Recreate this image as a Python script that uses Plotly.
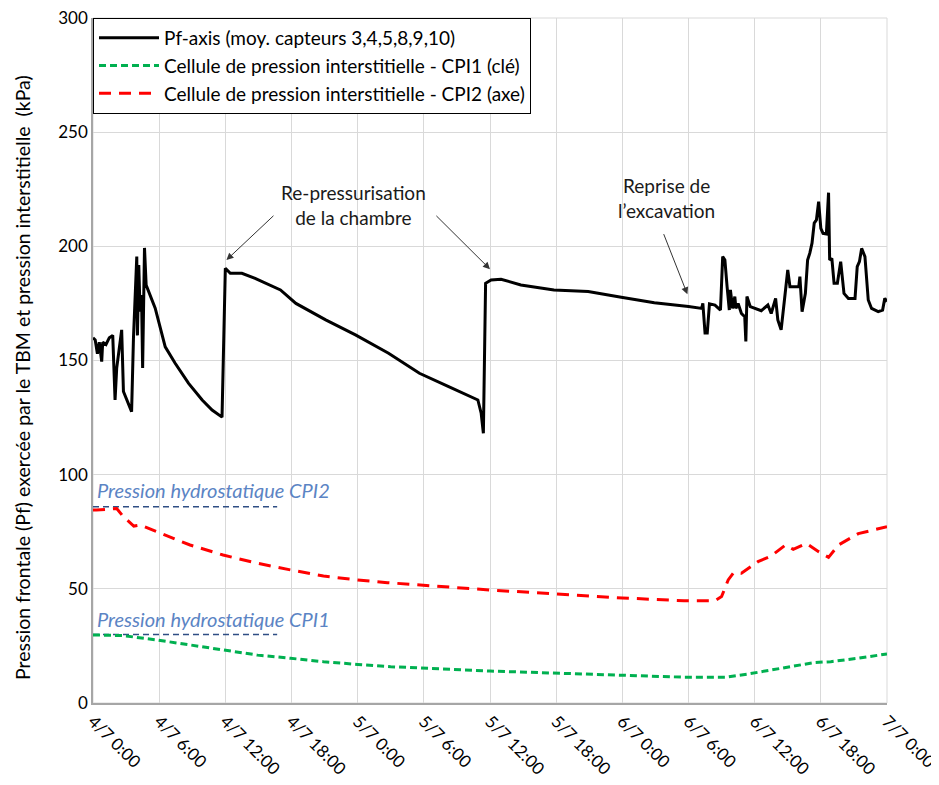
import plotly.graph_objects as go

# Time in hours since 4/7 0:00
pf_t = [0.0, 0.2, 0.4, 0.57, 0.79, 0.88, 1.18, 1.48, 1.79, 2.0, 2.15, 2.4, 2.6, 2.76, 3.5, 3.67,
        3.82, 3.97, 4.03, 4.15, 4.27, 4.4, 4.5, 4.67, 4.82, 5.64, 6.55, 7.45, 8.67, 9.9, 10.8, 11.7,
        12.0, 12.45, 13.5, 14.7, 17.0, 18.4, 21.1, 23.8, 26.8, 29.6, 32.3, 34.3, 34.9, 35.2, 35.4,
        35.6, 36.1, 37.0, 38.8, 41.8, 44.9, 47.9, 50.9, 54.0, 55.2, 55.3, 55.5, 55.7, 55.9, 56.4,
        56.9, 57.1, 57.3, 57.5, 57.7, 57.8, 58.0, 58.2, 58.3, 58.5, 58.8, 59.1, 59.2, 59.3, 59.6,
        60.6, 61.2, 61.5, 61.9, 62.1, 62.4, 62.7, 63.0, 63.2, 64.0, 64.1, 64.3, 64.6, 64.8, 65.0,
        65.2, 65.4, 65.6, 65.8, 66.0, 66.2, 66.5, 66.7, 66.8, 67.0, 67.2, 67.5, 67.8, 68.1, 68.5,
        69.1, 69.3, 69.5, 69.7, 70.0, 70.3, 70.6, 71.2, 71.6, 71.8, 72.0]
pf_v = [160, 159, 153, 158, 149.5, 158, 157, 160, 161, 132.7, 146.7, 156.8, 163.4, 136.4, 127.6, 160,
        175.8, 195.5, 161, 191.8, 171.4, 178.7, 146.7, 199.3, 183, 172.9, 156, 148.8, 140, 132.7, 128.3, 125.2,
        190.4, 188.2, 188.2, 186, 180.9, 175, 167.8, 161.2, 153.2, 144.4, 138.5, 134.2, 132.7, 126.9, 118.1,
        183.8, 185.3, 185.6, 183.1, 180.9, 180.2, 177.7, 175.3, 173.6, 172.8, 175, 162, 162, 174.8, 174.3,
        172.1, 195.5, 194, 182.3, 172.1, 180.9, 172.8, 178, 172.8, 175, 170.6, 169.2, 158.3, 178, 173.6,
        171.8, 174.3, 170.6, 177.2, 167.8, 163.4, 176.5, 189.7, 182.3, 182.3, 186.7, 171.4, 179.4, 194, 197,
        201.4, 210.2, 211.6, 219.6, 207.9, 205.7, 205.4, 223.5, 194, 194.7, 183.8, 183.8, 193.3, 179.4, 177.2,
        177.2, 191.1, 193.3, 199.1, 195.5, 176.5, 172.8, 171.4, 172.1, 177.2, 175.8]

cpi1_t = [0.0, 2.75, 5.8, 8.8, 11.8, 14.9, 17.9, 20.9, 24.0, 27.0, 36.0, 48.0, 53.6, 57.3, 59.4,
          62.4, 65.4, 66.9, 69.4, 72.0]
cpi1_v = [29.8, 29.5, 27.6, 25.4, 23.2, 21.0, 19.6, 18.1, 16.9, 15.9, 14.0, 12.3, 11.3, 11.3, 12.7,
          15.2, 17.7, 18.1, 19.6, 21.5]

cpi2_t = [0.0, 0.3, 2.15, 2.75, 3.7, 4.3, 5.8, 8.8, 11.8, 14.9, 17.9, 20.9, 24.0, 26.7, 36.0, 48.0,
          53.6, 56.4, 57.0, 57.6, 58.1, 58.8, 60.3, 61.5, 62.8, 63.5, 64.7, 65.8, 66.7, 67.6, 69.4,
          70.9, 72.0]
cpi2_v = [84.5, 84.5, 85.2, 81.6, 77.5, 78.0, 75.0, 69.2, 64.8, 61.2, 58.3, 55.6, 53.9, 52.7, 49.5, 46.0,
          44.8, 44.8, 46.6, 53.9, 57.1, 56.8, 61.9, 64.4, 69.2, 67.3, 69.9, 66.3, 63.8, 69.2, 74.2,
          75.8, 77.2]

hydro_t = [0.0, 16.7]
hydro_cpi2 = [86.0, 86.0]
hydro_cpi1 = [30.0, 30.0]

tick_vals = [0, 6, 12, 18, 24, 30, 36, 42, 48, 54, 60, 66, 72]
tick_text = ["4/7 0:00", "4/7 6:00", "4/7 12:00", "4/7 18:00", "5/7 0:00", "5/7 6:00", "5/7 12:00",
             "5/7 18:00", "6/7 0:00", "6/7 6:00", "6/7 12:00", "6/7 18:00", "7/7 0:00"]

FONT = "Lato, 'Open Sans', sans-serif"

fig = go.Figure()
fig.add_trace(go.Scatter(x=hydro_t, y=hydro_cpi2, mode="lines", showlegend=False,
                         line=dict(color="#2F4E84", width=1.5, dash="6px,4px")))
fig.add_trace(go.Scatter(x=hydro_t, y=hydro_cpi1, mode="lines", showlegend=False,
                         line=dict(color="#2F4E84", width=1.5, dash="6px,4px")))
fig.add_trace(go.Scatter(x=pf_t, y=pf_v, mode="lines", name="Pf-axis (moy. capteurs 3,4,5,8,9,10)",
                         line=dict(color="black", width=3)))
fig.add_trace(go.Scatter(x=cpi1_t, y=cpi1_v, mode="lines",
                         name="Cellule de pression interstitielle - CPI1 (clé)",
                         line=dict(color="#00B050", width=3, dash="7px,4px")))
fig.add_trace(go.Scatter(x=cpi2_t, y=cpi2_v, mode="lines",
                         name="Cellule de pression interstitielle - CPI2 (axe)",
                         line=dict(color="#FF0000", width=3, dash="12px,8px")))

ann_font = dict(family=FONT, size=19, color="#1a1a1a")
fig.add_annotation(x=23.6, y=218, text="Re-pressurisation<br>de la chambre", showarrow=False, font=ann_font)
fig.add_annotation(x=52.0, y=221, text="Reprise de<br>l\u2019excavation", showarrow=False, font=ann_font)

arrow = dict(text="", showarrow=True, arrowhead=2, arrowsize=1.4, arrowwidth=1,
             arrowcolor="#333333", axref="x", ayref="y", xref="x", yref="y")
fig.add_annotation(x=12.1, y=194, ax=16.5, ay=214, **arrow)
fig.add_annotation(x=36.0, y=190, ax=31.0, ay=214, **arrow)
fig.add_annotation(x=53.9, y=179, ax=51.7, ay=206, **arrow)

hyd_font = dict(family=FONT, size=20, color="#5B84C4", style="italic")
fig.add_annotation(x=0.2, y=93.3, text="Pression hydrostatique CPI2", showarrow=False, xanchor="left",
                   font=hyd_font)
fig.add_annotation(x=0.2, y=36.8, text="Pression hydrostatique CPI1", showarrow=False, xanchor="left",
                   font=hyd_font)

# y-axis title as rotated annotation
fig.add_annotation(xref="paper", yref="paper", x=-0.089, y=0.475, textangle=-90, showarrow=False,
                   xanchor="center", yanchor="middle",
                   text="Pression frontale (Pf) exercée par le TBM et pression interstitielle  (kPa)",
                   font=dict(size=19.5, family=FONT, color="black"))

fig.update_layout(
    width=939, height=785,
    margin=dict(l=85, r=60, t=10, b=90),
    paper_bgcolor="white", plot_bgcolor="white",
    font=dict(family=FONT, size=17, color="black"),
    showlegend=True,
    legend=dict(x=0.0, y=1.0, xanchor="left", yanchor="top", bgcolor="white",
                bordercolor="black", borderwidth=1, font=dict(size=19, family=FONT),
                tracegroupgap=0, itemwidth=60),
    xaxis=dict(range=[0, 72], tickvals=tick_vals, ticktext=tick_text, tickangle=45,
               showgrid=True, gridcolor="#D9D9D9", gridwidth=1, zeroline=False,
               showline=True, linecolor="#A6A6A6", linewidth=1.5, ticks="", automargin=False,
               ticklabeloverflow="allow", tickfont=dict(size=17, family=FONT)),
    yaxis=dict(range=[0, 300], dtick=50, showgrid=True, gridcolor="#D9D9D9", gridwidth=1,
               zeroline=False, showline=True, linecolor="#A6A6A6", linewidth=1.5, ticks="",
               automargin=False, ticklabeloverflow="allow",
               tickfont=dict(size=17, family=FONT)),
)
fig.add_shape(type="rect", xref="paper", yref="paper", x0=0, y0=0, x1=1, y1=1,
              line=dict(color="#D9D9D9", width=1), layer="below")

fig.write_html("out.html")
